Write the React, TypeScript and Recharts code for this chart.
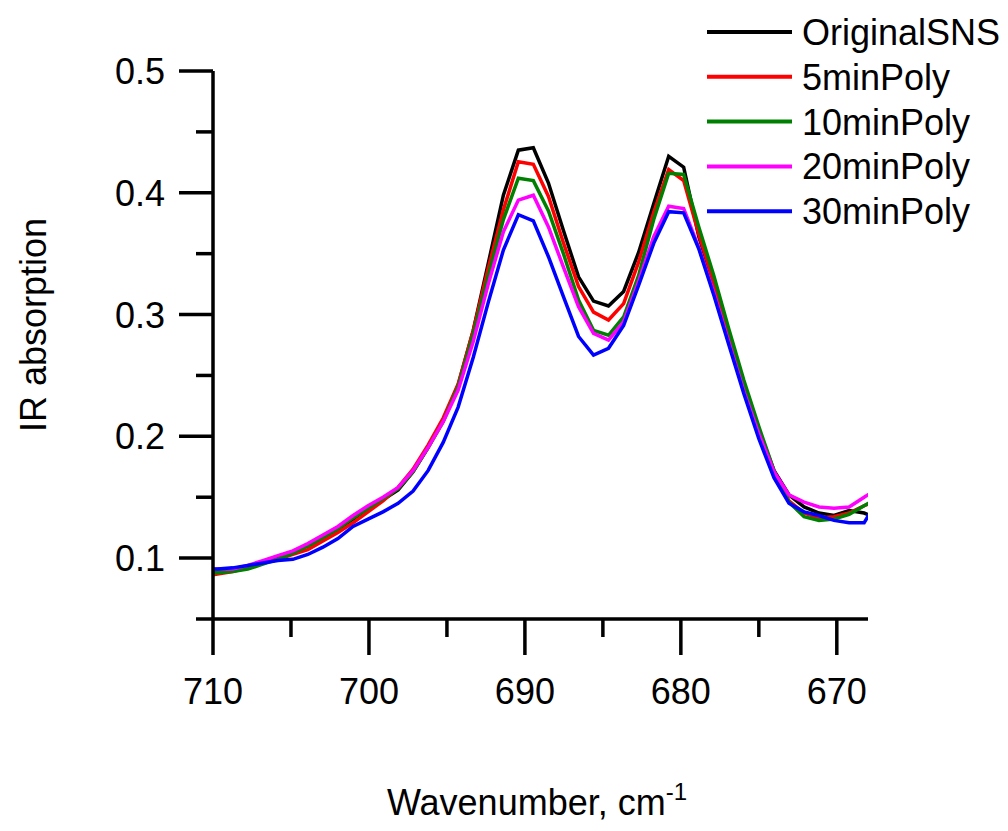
import { LineChart, Line, XAxis, YAxis } from 'recharts';

// wavenumber, cm-1 (sample spacing ~0.964)
const wavenumbers = [
  710.66, 709.7, 708.74, 707.77, 706.81, 705.84, 704.88, 703.92, 702.95, 701.99,
  701.02, 700.06, 699.1, 698.13, 697.17, 696.2, 695.24, 694.28, 693.31, 692.35,
  691.38, 690.42, 689.46, 688.49, 687.53, 686.56, 685.6, 684.64, 683.67, 682.71,
  681.74, 680.78, 679.82, 678.85, 677.89, 676.92, 675.96, 675.0, 674.03, 673.07,
  672.1, 671.14, 670.18, 669.21, 668.25, 667.28,
];

const originalSNS = [
  0.089, 0.09, 0.09, 0.093, 0.096, 0.1, 0.105, 0.11, 0.117, 0.124,
  0.132, 0.141, 0.148, 0.156, 0.171, 0.191, 0.213, 0.242, 0.287, 0.342,
  0.398, 0.435, 0.437, 0.408, 0.369, 0.331, 0.311, 0.307, 0.319, 0.351,
  0.391, 0.43, 0.421, 0.364, 0.325, 0.281, 0.241, 0.205, 0.172, 0.152,
  0.142, 0.137, 0.135, 0.139, 0.137, 0.132,
];

const poly5 = [
  0.085, 0.087, 0.089, 0.092, 0.096, 0.099, 0.103, 0.107, 0.114, 0.121,
  0.129, 0.138, 0.147, 0.158, 0.173, 0.193, 0.215, 0.243, 0.287, 0.338,
  0.386, 0.4255, 0.4234, 0.397, 0.359, 0.323, 0.302, 0.2955, 0.309, 0.343,
  0.384, 0.419, 0.41, 0.366, 0.327, 0.284, 0.243, 0.205, 0.17, 0.147,
  0.137, 0.133, 0.134, 0.137, 0.143, 0.148,
];

const poly10 = [
  0.087, 0.088, 0.089, 0.091, 0.095, 0.099, 0.104, 0.11, 0.117, 0.124,
  0.133, 0.141, 0.149, 0.157, 0.171, 0.191, 0.212, 0.241, 0.284, 0.332,
  0.378, 0.412, 0.41, 0.385, 0.35, 0.312, 0.287, 0.283, 0.298, 0.332,
  0.378, 0.416, 0.415, 0.372, 0.332, 0.288, 0.246, 0.208, 0.172, 0.146,
  0.134, 0.131, 0.132, 0.136, 0.143, 0.15,
];

const poly20 = [
  0.09, 0.091, 0.091, 0.094, 0.098, 0.102, 0.106, 0.112, 0.119, 0.126,
  0.135, 0.143, 0.15, 0.158, 0.172, 0.191, 0.212, 0.238, 0.278, 0.325,
  0.368, 0.394, 0.398, 0.372, 0.339, 0.3065, 0.2846, 0.279, 0.294, 0.327,
  0.364, 0.389, 0.387, 0.355, 0.318, 0.277, 0.237, 0.202, 0.171, 0.152,
  0.146, 0.142, 0.141, 0.142, 0.15, 0.158,
];

const poly30 = [
  0.091, 0.091, 0.092, 0.094, 0.096, 0.098, 0.099, 0.103, 0.109, 0.116,
  0.126, 0.132, 0.138, 0.145, 0.155, 0.172, 0.195, 0.224, 0.265, 0.31,
  0.353, 0.382, 0.377, 0.3475, 0.3147, 0.282, 0.2668, 0.2723, 0.291, 0.324,
  0.3585, 0.3845, 0.3835, 0.354, 0.316, 0.275, 0.235, 0.198, 0.166, 0.145,
  0.138, 0.135, 0.131, 0.129, 0.129, 0.15,
];

const xTicks = [670, 675, 680, 685, 690, 695, 700, 705, 710];
const yTicks = [0.05, 0.1, 0.15, 0.2, 0.25, 0.3, 0.35, 0.4, 0.45, 0.5];

const series = [
  { key: 'original', name: 'OriginalSNS', color: '#000000', values: originalSNS },
  { key: 'p5', name: '5minPoly', color: '#ff0000', values: poly5 },
  { key: 'p10', name: '10minPoly', color: '#008000', values: poly10 },
  { key: 'p20', name: '20minPoly', color: '#ff00ff', values: poly20 },
  { key: 'p30', name: '30minPoly', color: '#0000ff', values: poly30 },
];

const FONT = '"Liberation Sans", Arial, sans-serif';

const chartData = wavenumbers.map((wn, i) => {
  const row: Record<string, number> = { wn };
  series.forEach((s) => {
    row[s.key] = s.values[i];
  });
  return row;
});

const XTick = ({ x, y, payload }: any) => {
  const v = payload.value;
  const major = v % 10 === 0;
  return (
    <g>
      <line x1={x} y1={y} x2={x} y2={y + (major ? 36 : 18)} stroke="#000" strokeWidth={3.5} />
      {major && (
        <text x={x} y={y + 85} textAnchor="middle" fontSize={36} fontFamily={FONT} fill="#000">
          {v}
        </text>
      )}
    </g>
  );
};

const YTick = ({ x, y, payload }: any) => {
  const v = payload.value;
  const major = Math.round(v * 100) % 10 === 0;
  return (
    <g>
      <line x1={x} y1={y} x2={x - (major ? 34 : 17)} y2={y} stroke="#000" strokeWidth={3.5} />
      {major && (
        <text x={x - 48} y={y + 13} textAnchor="end" fontSize={36} fontFamily={FONT} fill="#000">
          {v.toFixed(1)}
        </text>
      )}
    </g>
  );
};

export default function App() {
  return (
    <div
      style={{
        position: 'absolute',
        left: 0,
        top: 0,
        width: 1008,
        height: 831,
        background: '#fff',
        fontFamily: FONT,
      }}
    >
      <LineChart
        width={1008}
        height={831}
        data={chartData}
        margin={{ top: 71, right: 140, bottom: 182, left: 153 }}
      >
        <XAxis
          dataKey="wn"
          type="number"
          domain={[668, 710]}
          reversed
          allowDataOverflow
          ticks={xTicks}
          interval={0}
          height={30}
          tickLine={false}
          tickSize={0}
          tickMargin={0}
          axisLine={{ stroke: '#000', strokeWidth: 3.5 }}
          tick={<XTick />}
        />
        <YAxis
          type="number"
          domain={[0.05, 0.5]}
          allowDataOverflow
          ticks={yTicks}
          interval={0}
          width={60}
          tickLine={false}
          tickSize={0}
          tickMargin={0}
          axisLine={{ stroke: '#000', strokeWidth: 3.5 }}
          tick={<YTick />}
        />
        {series.map((s) => (
          <Line
            key={s.key}
            type="linear"
            dataKey={s.key}
            name={s.name}
            stroke={s.color}
            strokeWidth={3.5}
            dot={false}
            isAnimationActive={false}
          />
        ))}
      </LineChart>

      {/* axis titles and legend */}
      <svg
        width={1008}
        height={831}
        style={{ position: 'absolute', left: 0, top: 0, pointerEvents: 'none' }}
      >
        <text
          transform="translate(46,325) rotate(-90)"
          textAnchor="middle"
          fontSize={36}
          fontFamily={FONT}
          fill="#000"
        >
          IR absorption
        </text>
        <text x={537} y={815} textAnchor="middle" fontSize={36} fontFamily={FONT} fill="#000">
          Wavenumber, cm
          <tspan dy={-15} fontSize={24}>
            -1
          </tspan>
        </text>
        {series.map((s, i) => {
          const cy = 32 + i * 44.8;
          return (
            <g key={s.key}>
              <line x1={707} y1={cy} x2={792} y2={cy} stroke={s.color} strokeWidth={4} />
              <text x={802} y={cy + 13} fontSize={36} fontFamily={FONT} fill="#000">
                {s.name}
              </text>
            </g>
          );
        })}
      </svg>
    </div>
  );
}
